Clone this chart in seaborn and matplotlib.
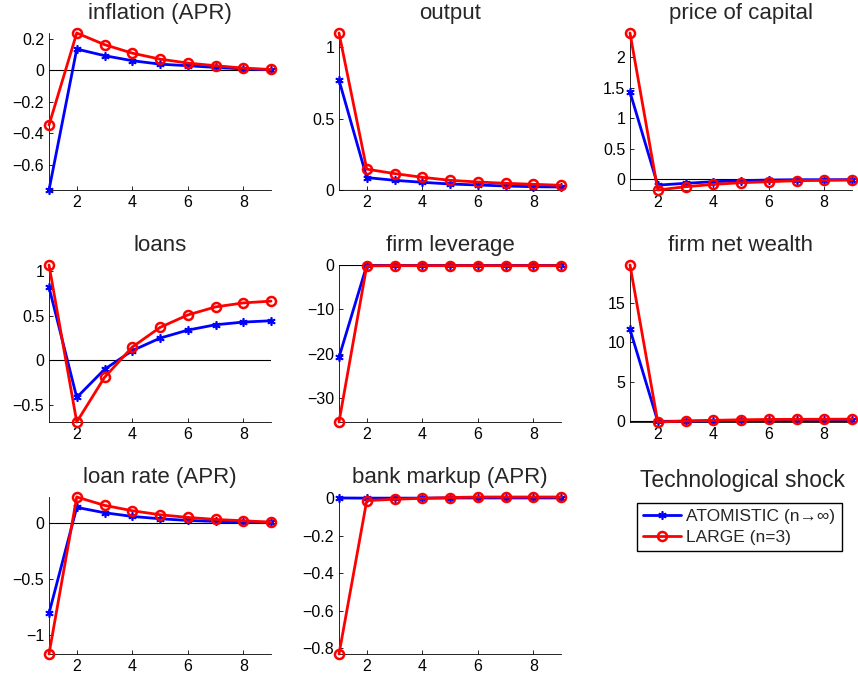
import numpy as np
import pandas as pd
import matplotlib
matplotlib.use("Agg")
import matplotlib.pyplot as plt
import seaborn as sns
from matplotlib.ticker import FuncFormatter

sns.set_style("white")
plt.rcParams['font.family'] = ['Liberation Sans', 'DejaVu Sans']

periods = [1, 2, 3, 4, 5, 6, 7, 8, 9]

# impulse responses
inflation_atom = [-0.76, 0.136, 0.094, 0.062, 0.04, 0.03, 0.019, 0.01, 0.004]
inflation_large = [-0.347, 0.238, 0.164, 0.11, 0.072, 0.047, 0.03, 0.015, 0.006]
output_atom = [0.77, 0.087, 0.068, 0.054, 0.042, 0.035, 0.028, 0.023, 0.021]
output_large = [1.10, 0.146, 0.115, 0.089, 0.068, 0.056, 0.047, 0.04, 0.033]
price_atom = [1.43, -0.10, -0.07, -0.044, -0.027, -0.016, -0.011, -0.011, -0.01]
price_large = [2.40, -0.18, -0.126, -0.088, -0.06, -0.044, -0.027, -0.022, -0.016]
loans_atom = [0.82, -0.415, -0.10, 0.11, 0.25, 0.34, 0.40, 0.43, 0.445]
loans_large = [1.07, -0.69, -0.19, 0.15, 0.37, 0.51, 0.60, 0.645, 0.665]
leverage_atom = [-20.8, -0.1, -0.1, -0.1, -0.1, -0.1, -0.1, -0.1, -0.1]
leverage_large = [-35.4, -0.2, -0.15, -0.15, -0.15, -0.15, -0.15, -0.15, -0.15]
wealth_atom = [11.65, 0.0, 0.03, 0.08, 0.12, 0.15, 0.17, 0.18, 0.19]
wealth_large = [19.8, -0.08, 0.04, 0.13, 0.2, 0.24, 0.26, 0.27, 0.28]
loanrate_atom = [-0.805, 0.144, 0.096, 0.063, 0.042, 0.027, 0.018, 0.012, 0.009]
loanrate_large = [-1.17, 0.237, 0.162, 0.114, 0.078, 0.054, 0.036, 0.024, 0.012]
markup_atom = [0.0, -0.001, -0.001, -0.001, 0.0, 0.0, 0.0, 0.0, 0.0]
markup_large = [-0.83, -0.014, -0.007, -0.002, 0.002, 0.005, 0.005, 0.005, 0.005]

panels = [
    ("inflation (APR)", inflation_atom, inflation_large, [-0.6, -0.4, -0.2, 0, 0.2]),
    ("output", output_atom, output_large, [0, 0.5, 1]),
    ("price of capital", price_atom, price_large, [0, 0.5, 1, 1.5, 2]),
    ("loans", loans_atom, loans_large, [-0.5, 0, 0.5, 1]),
    ("firm leverage", leverage_atom, leverage_large, [-30, -20, -10, 0]),
    ("firm net wealth", wealth_atom, wealth_large, [0, 5, 10, 15]),
    ("loan rate (APR)", loanrate_atom, loanrate_large, [-1, -0.5, 0]),
    ("bank markup (APR)", markup_atom, markup_large, [-0.8, -0.6, -0.4, -0.2, 0]),
]

label_atom = "ATOMISTIC (n\u2192\u221e)"
label_large = "LARGE (n=3)"

fig = plt.figure(figsize=(8.58, 6.78), dpi=100)

lefts = [49 / 858, 339 / 858, 630 / 858]
bottoms = [1 - 190 / 678, 1 - 422 / 678, 1 - 654 / 678]
w = 222 / 858
h = 157 / 678

fmt = FuncFormatter(lambda v, p: ("%g" % v).replace("-", "\u2212"))

for i, (title, atom, large, yt) in enumerate(panels):
    ax = fig.add_axes([lefts[i % 3], bottoms[i // 3], w, h])
    df = pd.DataFrame({"t": periods, "atom": atom, "large": large})
    ax.plot([1, 9], [0, 0], color="black", lw=0.8, zorder=1)
    sns.lineplot(data=df, x="t", y="atom", ax=ax, color="blue", lw=2,
                 marker=(6, 2, 0), markersize=6, mec="blue", mew=1.2,
                 label=label_atom, zorder=3, clip_on=False)
    sns.lineplot(data=df, x="t", y="large", ax=ax, color="red", lw=2,
                 marker="o", markersize=6.5, mfc="none", mec="red", mew=1.8,
                 label=label_large, zorder=4, clip_on=False)
    ax.get_legend().remove()
    lo = min(min(atom), min(large), 0)
    hi = max(max(atom), max(large), 0)
    ax.set_ylim(lo, hi)
    ax.set_xlim(1, 9)
    ax.set_xticks([2, 4, 6, 8])
    ax.set_yticks(yt)
    ax.yaxis.set_major_formatter(fmt)
    ax.set_xlabel("")
    ax.set_ylabel("")
    ax.set_title(title, fontsize=16, pad=10)
    for s in ["top", "right"]:
        ax.spines[s].set_visible(False)
    for s in ["left", "bottom"]:
        ax.spines[s].set_color("black")
        ax.spines[s].set_linewidth(0.6)
    ax.tick_params(direction="in", length=3, width=0.6, labelsize=11.5,
                   left=True, bottom=True, colors="black")
    ax.set_facecolor("white")
    handles = ax.get_lines()

fig.text(742 / 858, 1 - 481 / 678, "Technological shock", fontsize=16.5,
         ha="center", va="center")
leg = fig.legend(handles[1:3], [label_atom, label_large],
                 loc="upper left", bbox_to_anchor=(637 / 858, 1 - 503 / 678),
                 fontsize=12.5, frameon=True, fancybox=False, framealpha=1,
                 edgecolor="black", borderpad=0.35, handlelength=2.2,
                 handletextpad=0.3, labelspacing=0.3, borderaxespad=0)
leg.get_frame().set_linewidth(1.0)

fig.savefig("out.png", dpi=100)
